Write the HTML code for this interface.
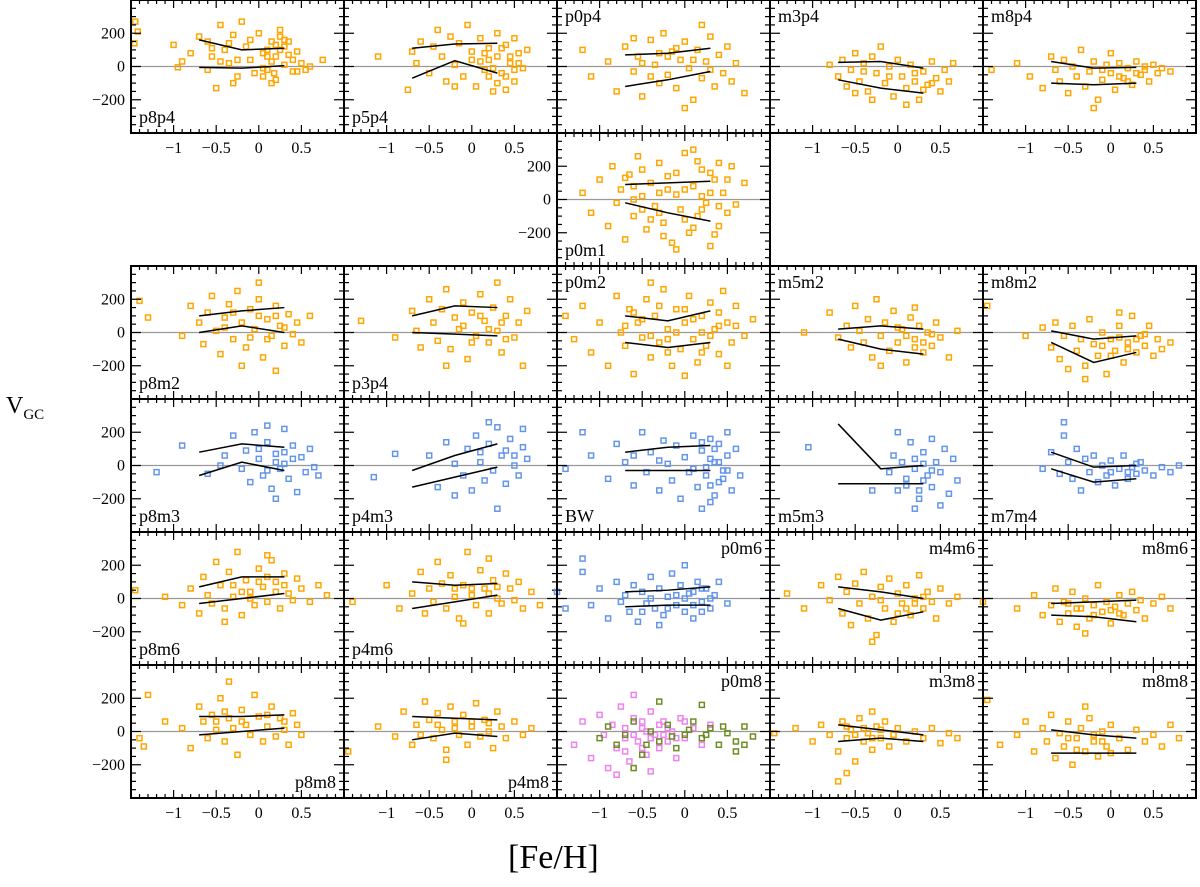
<!DOCTYPE html>
<html><head><meta charset="utf-8"><style>
body{margin:0;background:#fff}
svg text{font-family:"Liberation Serif",serif}
</style></head><body>
<svg id="chart" width="1200" height="882" viewBox="0 0 1200 882" xmlns="http://www.w3.org/2000/svg">
<text x="6" y="413" font-size="24">V<tspan font-size="15" dy="6">GC</tspan></text>
<text x="508" y="868" font-size="34">[Fe/H]</text>
</svg>
<script>
const xTicks=[-1,-0.5,0,0.5];
const yTicks=[-200,0,200];
const P_p8p4=[[-1.45,270],[-1.42,210],[-1.46,140],[-1,130],[-0.95,-5],[-0.9,30],[-0.8,80],[-0.7,180],[-0.6,150],[-0.55,60],[-0.5,-130],[-0.45,250],[-0.4,100],[-0.35,20],[-0.3,190],[-0.25,-60],[-0.2,270],[-0.15,120],[-0.1,40],[-0.05,-40],[0,200],[0.05,-60],[0.1,100],[0.15,150],[0.2,60],[0.2,-80],[0.25,180],[0.3,10],[0.3,120],[0.35,70],[0.4,-30],[0.45,90],[0.5,20],[0.55,-20],[0.6,0],[0.75,40],[-0.6,-20],[-0.3,-100],[0.1,-20],[0.25,220],[0.15,30],[0.35,150],[-0.1,160],[0.05,80],[0.2,130],[0.25,100],[0.3,160],[0.1,60],[0.18,-40],[-0.45,30],[-0.55,110],[-0.25,40],[0.4,40],[0.15,-100],[0.05,-10],[-0.35,140],[0.45,-30]];
const P_p5p4=[[-1.1,60],[-0.75,-140],[-0.7,90],[-0.65,20],[-0.6,150],[-0.5,-40],[-0.45,120],[-0.4,220],[-0.35,60],[-0.3,-90],[-0.25,180],[-0.2,10],[-0.15,140],[-0.1,-60],[-0.05,250],[0,90],[0.05,-120],[0.1,170],[0.1,30],[0.15,-20],[0.2,110],[0.25,-150],[0.3,200],[0.3,60],[0.35,-40],[0.4,130],[0.45,20],[0.5,-90],[0.5,170],[0.55,80],[0.6,-10],[0.65,100],[-0.2,-120],[0.2,-60],[0.4,-140],[0.0,40],[0.2,40],[0.35,110],[0.45,60],[0.25,-10],[0.4,-60],[0.55,20],[0.15,80],[0.3,-100],[0.5,-20]];
const P_p0p4=[[-1.2,100],[-1.1,-60],[-0.9,30],[-0.8,-150],[-0.7,120],[-0.6,-30],[-0.55,60],[-0.5,-180],[-0.4,160],[-0.35,10],[-0.3,-100],[-0.25,200],[-0.2,-50],[-0.15,90],[-0.1,-130],[-0.05,40],[0,150],[0.05,-10],[0.1,-200],[0.15,100],[0.2,-70],[0.25,30],[0.3,180],[0.35,-120],[0.4,70],[0.45,-40],[0.5,120],[0.55,-90],[0.6,20],[0.7,-160],[-0.6,170],[0.0,-250],[-0.2,60],[0.2,250],[-0.4,-60],[-0.3,80],[0.1,40],[-0.1,110],[0.3,-20],[-0.5,20]];
const P_m3p4=[[-0.8,10],[-0.7,-60],[-0.65,40],[-0.6,-120],[-0.55,-20],[-0.5,80],[-0.45,-90],[-0.4,20],[-0.35,-150],[-0.3,60],[-0.25,-40],[-0.2,120],[-0.15,-100],[-0.1,0],[-0.05,-180],[0,40],[0.05,-60],[0.1,-130],[0.15,10],[0.2,-90],[0.25,-200],[0.3,-30],[0.35,-110],[0.4,30],[0.45,-70],[0.5,-150],[0.55,-20],[0.6,-90],[0.65,20],[-0.3,-200],[0.1,-230],[-0.5,-160],[-0.1,-60],[0.2,-40],[0.3,-140],[-0.4,-30],[0.4,-100]];
const P_m8p4=[[-1.4,-20],[-1.1,20],[-0.95,-60],[-0.8,-130],[-0.7,60],[-0.65,-20],[-0.6,-90],[-0.55,40],[-0.5,-160],[-0.45,0],[-0.4,-60],[-0.35,100],[-0.3,-120],[-0.25,-30],[-0.2,30],[-0.15,-200],[-0.1,-80],[-0.05,10],[0,-40],[0.05,-140],[0.1,20],[0.15,-70],[0.2,-10],[0.25,-110],[0.3,30],[0.35,-50],[0.4,-20],[0.45,-90],[0.5,10],[0.55,-40],[0.6,-10],[0.7,-30],[-0.2,-250],[0.0,80],[-0.1,-20],[0.1,-60],[0.2,-90],[0.3,-40],[0.4,0]];
const P_p0m1=[[-1.2,40],[-1.1,-80],[-1,120],[-0.9,-160],[-0.85,200],[-0.8,-20],[-0.75,60],[-0.7,-240],[-0.65,150],[-0.6,-100],[-0.55,260],[-0.5,20],[-0.45,-180],[-0.4,100],[-0.35,-40],[-0.3,220],[-0.25,-140],[-0.2,60],[-0.15,-260],[-0.1,160],[-0.05,-60],[0,280],[0.05,-200],[0.1,80],[0.15,-100],[0.2,180],[0.25,-20],[0.3,-280],[0.35,120],[0.4,-160],[0.45,40],[0.5,-80],[0.55,200],[0.6,-30],[0.7,100],[-0.6,0],[-0.3,-80],[0,60],[0.2,-60],[0.4,220],[-0.1,-300],[0.1,300],[-0.5,180],[0.3,40],[-0.4,-120],[-0.2,140],[0,-120],[0.2,20],[0.3,160],[-0.3,40],[-0.6,80],[0.1,-170],[0.4,-40],[-0.1,30],[-0.5,-60],[0.5,120],[0.15,230],[-0.25,-220],[0.35,-210],[-0.7,130]];
const P_p8m2=[[-1.4,190],[-1.3,90],[-0.9,-20],[-0.8,160],[-0.7,60],[-0.65,-70],[-0.6,120],[-0.55,220],[-0.5,10],[-0.45,-130],[-0.4,90],[-0.35,170],[-0.3,-40],[-0.25,250],[-0.2,60],[-0.15,-90],[-0.1,140],[-0.05,20],[0,200],[0.05,-150],[0.1,80],[0.15,-20],[0.2,160],[0.25,40],[0.3,-80],[0.35,110],[0.4,-10],[0.45,60],[0.5,-60],[0.6,100],[-0.2,-200],[0.2,-230],[0.0,300],[-0.3,120],[0,100],[0.1,-40],[-0.4,30],[0.2,100],[-0.1,-30],[0.3,30]];
const P_p3p4=[[-1.3,70],[-0.9,-30],[-0.7,130],[-0.65,10],[-0.6,-90],[-0.5,200],[-0.45,60],[-0.4,-50],[-0.35,140],[-0.3,260],[-0.25,-100],[-0.2,90],[-0.15,20],[-0.1,180],[-0.05,-160],[0,120],[0.05,-20],[0.1,230],[0.15,70],[0.2,-60],[0.25,150],[0.3,10],[0.35,-120],[0.4,100],[0.45,200],[0.5,-30],[0.55,60],[0.6,-200],[0.65,130],[-0.3,-200],[0.3,300],[0.1,100],[-0.1,40],[0.2,20],[0.35,60],[0.0,-60],[0.4,-40]];
const P_p0m2=[[-1.4,100],[-1.3,-40],[-1.2,160],[-1.1,-120],[-1,60],[-0.9,-200],[-0.8,220],[-0.75,0],[-0.7,-80],[-0.65,140],[-0.6,-250],[-0.55,60],[-0.5,-30],[-0.45,200],[-0.4,-150],[-0.35,100],[-0.3,-60],[-0.25,260],[-0.2,20],[-0.15,-200],[-0.1,140],[-0.05,-100],[0,60],[0.05,220],[0.1,-40],[0.15,-180],[0.2,100],[0.25,-80],[0.3,180],[0.35,20],[0.4,-130],[0.45,250],[0.5,60],[0.55,-60],[0.6,160],[0.7,-20],[0.8,80],[-0.6,120],[-0.2,-120],[0.2,0],[0.4,120],[0.0,-260],[-0.4,300],[0.5,-200],[-0.5,80],[-0.3,160],[-0.1,0],[0.1,80],[0.3,-20],[-0.7,40],[0.2,-120],[0.4,40],[-0.4,-20],[0,140],[0.6,40],[-0.2,-40]];
const P_m5m2=[[-1.1,0],[-0.8,120],[-0.7,-30],[-0.6,40],[-0.55,-90],[-0.5,160],[-0.45,10],[-0.4,-60],[-0.35,80],[-0.3,-150],[-0.25,200],[-0.2,-20],[-0.15,60],[-0.1,-110],[-0.05,130],[0,-60],[0.05,20],[0.1,-180],[0.15,90],[0.2,-40],[0.25,40],[0.3,-120],[0.35,0],[0.4,-80],[0.45,60],[0.5,-30],[0.6,-150],[0.7,10],[-0.2,-200],[0.2,150],[0.1,-20],[0.3,-60],[0.2,-90],[0.4,-10],[0,30]];
const P_m8m2=[[-1.45,160],[-1,-20],[-0.8,30],[-0.7,-90],[-0.65,60],[-0.6,-160],[-0.55,-20],[-0.5,-220],[-0.45,40],[-0.4,-110],[-0.35,-40],[-0.3,-200],[-0.25,80],[-0.2,-70],[-0.15,-140],[-0.1,0],[-0.05,-250],[0,-40],[0.05,-110],[0.1,40],[0.15,-180],[0.2,-60],[0.25,100],[0.3,-120],[0.35,-20],[0.4,-80],[0.45,40],[0.5,-140],[0.55,-40],[0.6,-100],[0.7,-60],[-0.3,-280],[0.1,120],[-0.1,-80],[0.1,-30],[0.2,-100],[0.3,-40],[0,-140],[0.4,-10]];
const P_p8m3=[[-1.2,-40],[-0.9,120],[-0.6,-50],[-0.4,60],[-0.3,180],[-0.2,-20],[-0.15,90],[-0.1,-100],[-0.05,200],[0,40],[0.05,-60],[0.1,140],[0.15,-140],[0.2,70],[0.25,-20],[0.3,220],[0.3,10],[0.35,-80],[0.4,120],[0.45,-160],[0.5,50],[0.55,-40],[0.6,100],[0.65,-10],[0.7,-60],[-0.45,0],[0.2,-200],[0.1,240],[0.0,100],[0.2,20],[0.3,80],[0.1,-30],[0.4,40]];
const P_p4m3=[[-1.15,-70],[-0.9,70],[-0.5,60],[-0.4,-130],[-0.3,140],[-0.2,10],[-0.1,-60],[-0.05,100],[0,-150],[0.05,180],[0.1,20],[0.15,-90],[0.2,130],[0.25,-30],[0.3,230],[0.35,60],[0.4,-110],[0.45,160],[0.5,0],[0.55,-60],[0.6,110],[0.65,40],[-0.2,-180],[0.3,-260],[0.2,260],[0.6,220],[0.1,80],[0.4,90],[0.5,60]];
const P_BW=[[-1.4,-20],[-1.2,200],[-1.1,60],[-0.9,-80],[-0.8,130],[-0.7,20],[-0.6,-120],[-0.5,200],[-0.45,-40],[-0.4,80],[-0.3,-150],[-0.25,150],[-0.2,10],[-0.15,-90],[-0.1,120],[-0.05,-200],[0,50],[0.05,-40],[0.1,180],[0.15,-130],[0.2,90],[0.25,-60],[0.3,160],[0.3,-220],[0.35,20],[0.4,-100],[0.4,130],[0.45,-30],[0.5,60],[0.55,-150],[0.6,100],[0.65,-60],[-0.6,60],[0.2,-260],[0.5,200],[0.3,40],[0.35,100],[0.25,-10],[0.45,-80],[0.4,20],[0.3,-120],[0.35,-180],[0.1,-20],[-0.3,30],[0.5,-30],[0.2,140]];
const P_m5m3=[[-1.05,110],[-0.1,-40],[-0.05,60],[0,-150],[0.05,20],[0.1,-80],[0.15,140],[0.2,-20],[0.25,-200],[0.3,80],[0.35,-60],[0.4,160],[0.4,-130],[0.45,20],[0.5,-40],[0.55,100],[0.6,-170],[0.65,40],[0.7,-90],[0.0,200],[0.2,-260],[0.5,-240],[-0.3,-150],[0.3,10],[0.1,-120],[0.2,40],[0.3,-90],[0.4,-30],[0.25,-150]];
const P_m7m4=[[-0.8,-20],[-0.7,80],[-0.6,-50],[-0.55,180],[-0.5,20],[-0.45,-80],[-0.4,100],[-0.35,-150],[-0.3,40],[-0.25,-40],[-0.2,60],[-0.15,-100],[-0.1,0],[-0.05,-60],[0,30],[0.05,-120],[0.1,-20],[0.15,60],[0.2,-80],[0.25,-10],[0.3,-50],[0.35,20],[0.4,-30],[0.5,-60],[0.6,-10],[0.7,-40],[0.8,0],[-0.55,260],[0,-40],[0.2,-40],[0.3,10]];
const P_p8m6=[[-1.45,50],[-1.1,10],[-0.9,-40],[-0.8,60],[-0.7,-90],[-0.65,130],[-0.6,20],[-0.55,-30],[-0.5,220],[-0.45,80],[-0.4,-60],[-0.35,160],[-0.3,10],[-0.25,280],[-0.2,-100],[-0.15,110],[-0.1,40],[-0.05,-40],[0,180],[0.05,70],[0.1,-20],[0.15,230],[0.2,100],[0.25,-60],[0.3,150],[0.35,30],[0.4,-10],[0.45,120],[0.5,60],[0.6,-20],[0.7,80],[0.8,20],[-0.4,-140],[0.1,260],[-0.2,40],[0,100],[0.2,40],[-0.3,80],[0.1,130],[0.3,80],[-0.1,0]];
const P_p4m6=[[-1.4,-20],[-1,80],[-0.85,-60],[-0.7,30],[-0.6,160],[-0.55,-90],[-0.5,60],[-0.45,-20],[-0.4,220],[-0.35,90],[-0.3,-60],[-0.25,140],[-0.2,10],[-0.15,-120],[-0.1,80],[-0.05,280],[0,20],[0.05,-40],[0.1,170],[0.15,60],[0.2,-90],[0.25,110],[0.3,0],[0.35,-30],[0.4,150],[0.45,60],[0.5,-10],[0.55,100],[0.6,-60],[0.7,40],[0.8,-40],[-0.1,-150],[0.2,240],[0,60],[0.2,30],[-0.2,60],[0.3,70]];
const P_p0m6=[[-1.5,40],[-1.4,-60],[-1.2,160],[-1.1,-40],[-1,60],[-0.9,-120],[-0.8,100],[-0.75,-20],[-0.7,20],[-0.65,-80],[-0.6,80],[-0.55,-140],[-0.5,40],[-0.45,-30],[-0.4,130],[-0.35,-60],[-0.3,60],[-0.25,-100],[-0.2,10],[-0.15,150],[-0.1,-40],[-0.05,80],[0,-80],[0.05,30],[0.1,-120],[0.15,100],[0.2,-20],[0.25,60],[0.3,-60],[0.35,20],[0.4,100],[0.5,-30],[-0.3,-160],[0.0,200],[-1.2,240],[-0.2,-60],[0,0],[0.1,40],[0.2,-80],[-0.4,0],[0.3,0],[-0.1,20],[0.2,60],[-0.5,-80],[0.1,-40]];
const P_m4m6=[[-1.3,30],[-1.1,-60],[-0.9,80],[-0.8,-10],[-0.7,130],[-0.65,-90],[-0.6,40],[-0.55,-160],[-0.5,90],[-0.45,-30],[-0.4,160],[-0.35,-120],[-0.3,10],[-0.25,-220],[-0.2,70],[-0.15,-60],[-0.1,120],[-0.05,-140],[0,30],[0.05,-30],[0.1,80],[0.15,-100],[0.2,0],[0.25,140],[0.3,-60],[0.35,40],[0.4,-20],[0.45,-120],[0.5,60],[0.6,-30],[0.7,10],[-0.3,-260],[0.1,-60],[0.2,-30],[0,-90],[0.3,10],[-0.2,-10]];
const P_m8m6=[[-1.5,-20],[-1.1,-60],[-0.9,20],[-0.8,-100],[-0.7,-40],[-0.65,60],[-0.6,-140],[-0.55,-20],[-0.5,-90],[-0.45,40],[-0.4,-170],[-0.35,-60],[-0.3,0],[-0.25,-120],[-0.2,-40],[-0.15,80],[-0.1,-80],[-0.05,-20],[0,-150],[0.05,-50],[0.1,20],[0.15,-100],[0.2,-30],[0.25,40],[0.3,-70],[0.35,-10],[0.4,-120],[0.5,-30],[0.6,10],[0.7,-60],[-0.3,-210],[-0.4,-60],[-0.2,-100],[0,-70],[-0.5,-30],[0.1,-90]];
const P_p8m8=[[-1.4,-40],[-1.35,-90],[-1.1,60],[-0.9,20],[-0.8,-100],[-0.7,150],[-0.65,60],[-0.6,-40],[-0.55,100],[-0.5,10],[-0.45,200],[-0.4,-60],[-0.35,80],[-0.3,20],[-0.25,-140],[-0.2,130],[-0.15,40],[-0.1,-20],[-0.05,220],[0,90],[0.05,-60],[0.1,30],[0.15,150],[0.2,-30],[0.25,80],[0.3,10],[0.35,-80],[0.4,110],[0.45,40],[0.5,-20],[-0.35,300],[-1.3,220],[-0.5,60],[-0.2,60],[0.1,100],[0.3,60],[-0.4,120]];
const P_p4m8=[[-1.45,-120],[-1.1,30],[-0.9,-30],[-0.8,120],[-0.7,-80],[-0.65,40],[-0.6,-20],[-0.55,180],[-0.5,70],[-0.45,-40],[-0.4,110],[-0.35,10],[-0.3,-110],[-0.25,150],[-0.2,60],[-0.15,-20],[-0.1,100],[-0.05,-80],[0,30],[0.05,170],[0.1,-30],[0.15,70],[0.2,0],[0.25,-100],[0.3,120],[0.35,30],[0.4,-40],[0.5,60],[0.6,-20],[0.7,20],[-0.3,-170],[-0.4,40],[-0.2,20],[0,60],[0.2,50]];
const P_p0m8a=[[-1.3,-80],[-1.2,60],[-1.1,-160],[-1,100],[-0.95,-20],[-0.9,-220],[-0.85,40],[-0.8,-100],[-0.75,150],[-0.7,-40],[-0.65,-180],[-0.6,80],[-0.55,-60],[-0.5,20],[-0.45,-140],[-0.4,120],[-0.35,-20],[-0.3,-100],[-0.25,60],[-0.2,-60],[-0.15,0],[-0.1,-160],[-0.05,80],[0,-40],[0.1,20],[0.2,-80],[0.3,40],[-0.6,220],[-0.8,-260],[-0.4,-240],[-0.7,20],[-0.5,-100],[-0.3,40],[-0.6,-20],[-0.4,-40],[-0.2,20],[-0.5,60],[-0.3,-60],[-0.1,-40],[-0.7,-120],[0,60],[-0.45,0],[-0.25,-20]];
const P_p0m8b=[[-1,-40],[-0.9,30],[-0.8,-80],[-0.7,-20],[-0.6,60],[-0.5,-140],[-0.4,0],[-0.3,-60],[-0.2,40],[-0.1,-100],[0,-20],[0.1,60],[0.2,-40],[0.3,20],[0.4,-80],[0.5,-10],[0.6,-60],[0.7,30],[0.8,-30],[-0.6,-220],[-0.3,180],[0.6,-120],[0.2,160],[0.7,-80],[-0.15,-30],[0.05,10],[0.25,-20],[0.45,30],[-0.45,-80]];
const P_m3m8=[[-1.45,-10],[-1.2,20],[-1,-60],[-0.9,40],[-0.8,-20],[-0.7,-120],[-0.65,60],[-0.6,-40],[-0.55,10],[-0.5,-180],[-0.45,80],[-0.4,-60],[-0.35,-10],[-0.3,-110],[-0.25,30],[-0.2,-40],[-0.15,60],[-0.1,-90],[-0.05,-20],[0,20],[0.1,-60],[0.2,0],[0.3,-40],[0.4,20],[0.5,-70],[0.6,-10],[0.7,-40],[-0.6,-250],[-0.7,-300],[-0.3,120],[-0.5,-20],[-0.4,20],[-0.3,-40],[-0.2,10],[-0.6,30]];
const P_m8m8=[[-1.45,190],[-1.3,-80],[-1.1,-20],[-1,60],[-0.9,-120],[-0.8,20],[-0.75,-60],[-0.7,100],[-0.65,-160],[-0.6,-10],[-0.55,-90],[-0.5,60],[-0.45,-200],[-0.4,-40],[-0.35,20],[-0.3,-120],[-0.25,80],[-0.2,-60],[-0.15,-150],[-0.1,0],[-0.05,-90],[0,40],[0.1,-40],[0.2,-110],[0.3,10],[0.4,-60],[0.5,-20],[0.6,-90],[0.7,40],[0.8,-40],[-0.3,150],[-0.5,-40],[-0.4,-110],[-0.2,-20],[0,-130],[-0.1,-60]];
const L_std=[-0.7,-0.2,0.3];
const panels=[
 ["p8p4",0,0,"bl","#FFA500",P_p8p4,[160,100,110],[-5,-10,5]],
 ["p5p4",0,1,"bl","#FFA500",P_p5p4,[110,135,140],[-70,35,-40]],
 ["p0p4",0,2,"tl","#FFA500",P_p0p4,[70,80,110],[-120,-80,-30]],
 ["m3p4",0,3,"tl","#FFA500",P_m3p4,[25,30,-10],[-80,-130,-160]],
 ["m8p4",0,4,"tl","#FFA500",P_m8p4,[30,-10,-5],[-100,-110,-100]],
 ["p0m1",1,2,"bl","#FFA500",P_p0m1,[90,100,110],[-20,-80,-130]],
 ["p8m2",2,0,"bl","#FFA500",P_p8m2,[100,130,150],[0,40,0]],
 ["p3p4",2,1,"bl","#FFA500",P_p3p4,[100,160,150],[0,-10,-20]],
 ["p0m2",2,2,"tl","#FFA500",P_p0m2,[100,70,130],[-60,-90,-60]],
 ["m5m2",2,3,"tl","#FFA500",P_m5m2,[20,40,20],[-40,-100,-130]],
 ["m8m2",2,4,"tl","#FFA500",P_m8m2,[10,-40,-20],[-60,-180,-120]],
 ["p8m3",3,0,"bl","#6495ED",P_p8m3,[80,130,110],[-60,20,-30]],
 ["p4m3",3,1,"bl","#6495ED",P_p4m3,[-30,60,130],[-130,-70,-10]],
 ["BW",3,2,"bl","#6495ED",P_BW,[80,110,120],[-30,-30,-30]],
 ["m5m3",3,3,"bl","#6495ED",P_m5m3,[250,-20,0],[-110,-110,-110]],
 ["m7m4",3,4,"bl","#6495ED",P_m7m4,[80,-10,0],[-20,-100,-80]],
 ["p8m6",4,0,"bl","#FFA500",P_p8m6,[70,130,130],[-30,0,30]],
 ["p4m6",4,1,"bl","#FFA500",P_p4m6,[100,80,90],[-60,-20,20]],
 ["p0m6",4,2,"tr","#6495ED",P_p0m6,[40,50,70],[-50,-40,-40]],
 ["m4m6",4,3,"tr","#FFA500",P_m4m6,[70,40,0],[-60,-130,-80]],
 ["m8m6",4,4,"tr","#FFA500",P_m8m6,[-30,-20,-10],[-100,-110,-140]],
 ["p8m8",5,0,"br","#FFA500",P_p8m8,[90,90,100],[-20,0,20]],
 ["p4m8",5,1,"br","#FFA500",P_p4m8,[90,80,70],[-50,-10,-30]],
 ["p0m8",5,2,"tr","#EE82EE",P_p0m8a,null,null],
 ["m3m8",5,3,"tr","#FFA500",P_m3m8,[40,10,-20],[-60,-40,-60]],
 ["m8m8",5,4,"tr","#FFA500",P_m8m8,[10,-20,-40],[-130,-130,-130]]
];
const NS="http://www.w3.org/2000/svg";
const svg=document.getElementById('chart');
const X0=131,PW=213,PH=133;
function mk(t,a,p){const e=document.createElementNS(NS,t);for(const k in a)e.setAttribute(k,a[k]);(p||svg).appendChild(e);return e;}
function sx(c,v){return X0+c*PW+(v+1.5)/2.5*PW;}
function sy(r,v){return r*PH+PH/2-v/800*PH;}
function fmt(v){return (v<0?"\u2212":"")+Math.abs(v);}
const showX=new Set(["0,0","0,1","0,3","0,4","5,0","5,1","5,2","5,3","5,4"]);
panels.forEach(p=>{
 const [name,r,c,pos,col,pts,up,lo]=p;
 const g=mk('g',{});
 
 
 const L=X0+c*PW,T=r*PH;
 mk('line',{x1:L,x2:L+PW,y1:sy(r,0),y2:sy(r,0),stroke:'#999','stroke-width':1.3},g);
 const drawPts=(arr,color,nm)=>arr.forEach(d=>{
  const m=mk('rect',{x:sx(c,d[0])-2.5,y:sy(r,d[1])-2.5,width:5,height:5,fill:'none',stroke:color,'stroke-width':1.5},g);
  
  
 });
 drawPts(pts,col,'point-'+name);
 if(name==="p0m8")drawPts(P_p0m8b,'#6B8E23','point-p0m8-green');
 [up,lo].forEach((ln,i)=>{ if(!ln)return;
  const pl=mk('polyline',{points:L_std.map((x,j)=>sx(c,x)+','+sy(r,ln[j])).join(' '),fill:'none',stroke:'#000','stroke-width':1.5},g);
  
  
 });
 mk('rect',{x:L,y:T,width:PW,height:PH,fill:'none',stroke:'#000','stroke-width':2},g);
 for(let v=-1.5;v<=1.0001;v+=0.1){const x=sx(c,v);const maj=Math.abs(v*2-Math.round(v*2))<1e-6;const l=maj?8:4;
  mk('line',{x1:x,x2:x,y1:T+PH,y2:T+PH-l,stroke:'#000','stroke-width':1.2},g);
  mk('line',{x1:x,x2:x,y1:T,y2:T+l,stroke:'#000','stroke-width':1.2},g);}
 for(let v=-400;v<=400;v+=50){const y=sy(r,v);const l=v%200===0?10:5;
  mk('line',{x1:L,x2:L+l,y1:y,y2:y,stroke:'#000','stroke-width':1.2},g);
  mk('line',{x1:L+PW,x2:L+PW-l,y1:y,y2:y,stroke:'#000','stroke-width':1.2},g);}
 const tx={bl:[L+8,T+PH-10,'start'],tl:[L+8,T+22,'start'],tr:[L+PW-8,T+22,'end'],br:[L+PW-8,T+PH-10,'end']}[pos];
 const lab=mk('text',{x:tx[0],y:tx[1],'text-anchor':tx[2],'font-size':18},g);lab.textContent=name;
 
 
 if(showX.has(r+','+c))xTicks.forEach(v=>{const t=mk('text',{x:sx(c,v),y:T+PH+20,'text-anchor':'middle','font-size':16},g);t.textContent=fmt(v);
  
  });
 if(c===0||name==="p0m1")yTicks.forEach(v=>{const t=mk('text',{x:L-6,y:sy(r,v)+5,'text-anchor':'end','font-size':16},g);t.textContent=fmt(v);
  
  });
});
</script>
</body></html>
